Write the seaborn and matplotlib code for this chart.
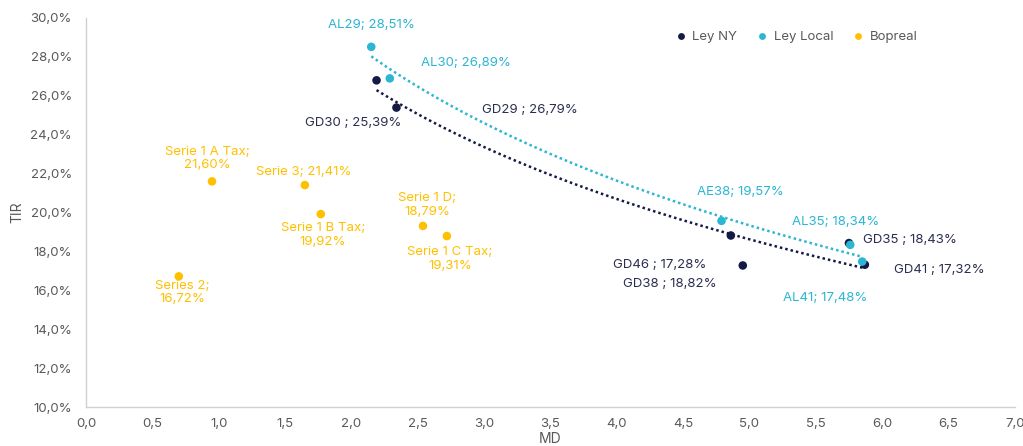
import numpy as np
import pandas as pd
import seaborn as sns
import matplotlib.pyplot as plt
from matplotlib.ticker import FuncFormatter, MultipleLocator

# Ley NY
ny_names = ["GD29", "GD30", "GD38", "GD46", "GD35", "GD41"]
ny_md = [2.19, 2.34, 4.86, 4.95, 5.75, 5.87]
ny_tir = [26.79, 25.39, 18.82, 17.28, 18.43, 17.32]

# Ley Local
local_names = ["AL29", "AL30", "AE38", "AL35", "AL41"]
local_md = [2.15, 2.29, 4.79, 5.76, 5.85]
local_tir = [28.51, 26.89, 19.57, 18.34, 17.48]

# Bopreal
bop_names = ["Serie 1 A Tax", "Serie 3", "Serie 1 B Tax", "Serie 1 C Tax", "Serie 1 D", "Series 2"]
bop_md = [0.95, 1.65, 1.77, 2.54, 2.72, 0.70]
bop_tir = [21.60, 21.41, 19.92, 19.31, 18.79, 16.72]

colors = {"Ley NY": "#141a45", "Ley Local": "#2bb6d3", "Bopreal": "#ffc000"}
text_colors = {"Ley NY": "#2b2e50", "Ley Local": "#2bb6d3", "Bopreal": "#ffc000"}

df = pd.concat([
    pd.DataFrame({"name": ny_names, "MD": ny_md, "TIR": ny_tir, "grupo": "Ley NY"}),
    pd.DataFrame({"name": local_names, "MD": local_md, "TIR": local_tir, "grupo": "Ley Local"}),
    pd.DataFrame({"name": bop_names, "MD": bop_md, "TIR": bop_tir, "grupo": "Bopreal"}),
], ignore_index=True)

sns.set_style("white")
plt.rcParams["font.family"] = ["Inter", "DejaVu Sans"]

fig, ax = plt.subplots(figsize=(10.23, 4.46), dpi=100)
fig.subplots_adjust(left=0.084, right=0.992, bottom=0.087, top=0.96)

sns.scatterplot(data=df, x="MD", y="TIR", hue="grupo", palette=colors, s=38,
                edgecolor="none", ax=ax, zorder=3)

# trendlines (logarithmic, like excel)
for grp in ["Ley NY", "Ley Local"]:
    sub = df[df["grupo"] == grp]
    b, a = np.polyfit(np.log(sub["MD"]), sub["TIR"], 1)
    xs = np.linspace(sub["MD"].min(), sub["MD"].max(), 100)
    ax.plot(xs, a + b * np.log(xs), linestyle=(0, (1, 1.2)), lw=1.8,
            color=colors[grp], zorder=2)

# label offsets in pixels (dx, dy)
offsets = {
    "AL29": (0, 22), "AL30": (76, 15), "AE38": (19, 29), "AL35": (-15, 23), "AL41": (-37, -36),
    "GD29": (153, -30), "GD30": (-43, -15), "GD38": (-61, -49), "GD46": (-83, 0),
    "GD35": (61, 3), "GD41": (74, -5),
    "Serie 1 A Tax": (-5, 23), "Serie 3": (-1, 13), "Serie 1 B Tax": (2, -21),
    "Serie 1 C Tax": (27, -33), "Serie 1 D": (-20, 31), "Series 2": (3, -16),
}
multiline = ["Serie 1 A Tax", "Serie 1 B Tax", "Serie 1 C Tax", "Serie 1 D", "Series 2"]

for _, r in df.iterrows():
    val = f"{r['TIR']:.2f}".replace(".", ",") + "%"
    if r["grupo"] == "Ley NY":
        txt = f"{r['name']} ; {val}"
    elif r["name"] in multiline:
        txt = f"{r['name']};\n{val}"
    else:
        txt = f"{r['name']}; {val}"
    ax.annotate(txt, (r["MD"], r["TIR"]), xytext=offsets[r["name"]],
                textcoords="offset pixels", ha="center", va="center",
                fontsize=9.5, color=text_colors[r["grupo"]], linespacing=1.15)

ax.set_xlim(0, 7)
ax.set_ylim(10, 30)
ax.xaxis.set_major_locator(MultipleLocator(0.5))
ax.yaxis.set_major_locator(MultipleLocator(2))
ax.xaxis.set_major_formatter(FuncFormatter(lambda v, p: f"{v:.1f}".replace(".", ",")))
ax.yaxis.set_major_formatter(FuncFormatter(lambda v, p: f"{v:.1f}".replace(".", ",") + "%"))
ax.tick_params(axis="both", labelsize=9.5, colors="#595959", length=0)
ax.tick_params(axis="x", pad=8)
ax.tick_params(axis="y", pad=10)
ax.set_xlabel("MD", fontsize=10, color="#595959", labelpad=1)
ax.set_ylabel("TIR", fontsize=10, color="#595959", labelpad=4)

for side in ["top", "right"]:
    ax.spines[side].set_visible(False)
for side in ["left", "bottom"]:
    ax.spines[side].set_color("#d0d0d0")
    ax.spines[side].set_linewidth(1)

ax.legend(loc="center left", bbox_to_anchor=(0.621, 0.95), ncol=3, frameon=False,
          fontsize=9.5, handlelength=1.0, handletextpad=0.35, columnspacing=1.4,
          markerscale=0.8, labelcolor="#595959")

fig.savefig("out.png", dpi=100)
